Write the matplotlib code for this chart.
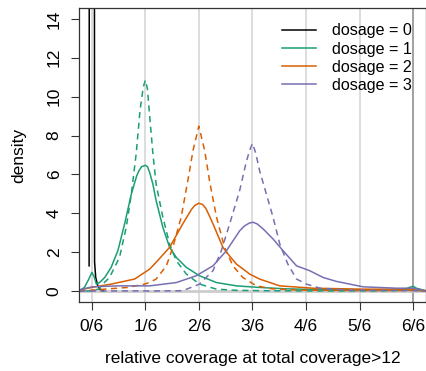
import matplotlib
matplotlib.use('Agg')
import matplotlib.pyplot as plt

plt.rcParams['font.family'] = ['Liberation Sans', 'DejaVu Sans']

# density curves (x = relative coverage, y = density)
d0_x = [-0.0085, -0.008, -0.004, 0.0, 0.004, 0.008, 0.0085, 0.012, 0.018, 0.025, 0.035]
d0_y = [1.3, 18, 60, 80, 60, 18, 1.5, 0.7, 0.3, 0.1, 0.02]

d1_x = [-0.04, -0.023, -0.01, 0.0, 0.007, 0.014, 0.024, 0.04, 0.06, 0.081, 0.102,
        0.123, 0.14, 0.147, 0.155, 0.1667, 0.173, 0.18, 0.19, 0.2, 0.221, 0.242,
        0.263, 0.294, 0.335, 0.388, 0.45, 0.52, 0.6, 0.7, 0.8, 0.9, 0.97, 0.99,
        1.0, 1.01, 1.04]
d1_y = [0.02, 0.19, 0.6, 0.96, 0.75, 0.36, 0.44, 0.7, 1.22, 2.08, 3.46,
        5.0, 5.95, 6.2, 6.4, 6.47, 6.4, 6.1, 5.5, 4.66, 3.28, 2.25,
        1.73, 1.22, 0.79, 0.44, 0.27, 0.19, 0.12, 0.08, 0.06, 0.05, 0.06, 0.2,
        0.25, 0.15, 0.02]
d1e_x = [-0.02, 0.0, 0.02, 0.034, 0.055, 0.07, 0.086, 0.107, 0.123, 0.138, 0.15,
         0.16, 0.1667, 0.173, 0.18, 0.19, 0.2, 0.221, 0.242, 0.263, 0.294, 0.335,
         0.388, 0.45, 0.55, 0.7, 0.9, 1.0, 1.03]
d1e_y = [0.0, 0.02, 0.1, 0.36, 0.7, 1.2, 1.73, 3.28, 5.0, 7.07, 9.3,
         10.5, 10.85, 10.4, 9.0, 7.07, 5.5, 3.8, 2.42, 1.56, 0.88, 0.36,
         0.1, 0.04, 0.02, 0.01, 0.01, 0.05, 0.0]

d2_x = [-0.04, 0.0, 0.06, 0.133, 0.18, 0.2, 0.242, 0.283, 0.31, 0.32, 0.333, 0.345,
        0.355, 0.365, 0.377, 0.408, 0.429, 0.45, 0.491, 0.522, 0.585, 0.688, 0.844,
        1.0, 1.04]
d2_y = [0.05, 0.19, 0.36, 0.62, 1.13, 1.48, 2.25, 3.46, 4.2, 4.4, 4.52, 4.45,
        4.25, 3.9, 3.46, 2.25, 1.8, 1.39, 0.88, 0.62, 0.27, 0.15, 0.1,
        0.1, 0.02]
d2e_x = [-0.04, 0.04, 0.112, 0.164, 0.18, 0.2, 0.232, 0.252, 0.278, 0.3, 0.315, 0.333,
         0.351, 0.367, 0.388, 0.413, 0.439, 0.47, 0.512, 0.56, 0.65, 0.8, 1.0, 1.04]
d2e_y = [0.0, 0.1, 0.19, 0.36, 0.45, 0.62, 1.3, 2.25, 3.8, 5.8, 7.24, 8.48,
         7.24, 5.6, 3.8, 2.25, 1.3, 0.7, 0.27, 0.12, 0.05, 0.03, 0.03, 0.0]

d3_x = [-0.04, 0.0, 0.081, 0.18, 0.263, 0.325, 0.377, 0.419, 0.46, 0.475, 0.49,
        0.502, 0.515, 0.533, 0.564, 0.595, 0.637, 0.678, 0.72, 0.761, 0.844, 0.948,
        1.0, 1.03]
d3_y = [0.05, 0.22, 0.27, 0.27, 0.44, 0.79, 1.3, 2.08, 3.1, 3.35, 3.5,
        3.54, 3.45, 3.2, 2.68, 2.08, 1.3, 1.05, 0.7, 0.5, 0.22, 0.15,
        0.15, 0.05]
d3e_x = [-0.04, 0.1, 0.2, 0.283, 0.335, 0.377, 0.403, 0.429, 0.46, 0.48, 0.491, 0.5,
         0.51, 0.522, 0.543, 0.564, 0.585, 0.61, 0.637, 0.668, 0.71, 0.8, 1.0, 1.04]
d3e_y = [0.0, 0.01, 0.01, 0.02, 0.36, 1.05, 2.08, 3.46, 5.17, 6.6, 7.24, 7.6,
         7.1, 6.2, 5.0, 3.8, 2.42, 1.39, 0.62, 0.36, 0.15, 0.05, 0.02, 0.0]

xticks = [0, 1/6, 2/6, 3/6, 4/6, 5/6, 1]
xlabels = ['0/6', '1/6', '2/6', '3/6', '4/6', '5/6', '6/6']
yticks = [0, 2, 4, 6, 8, 10, 12, 14]
labels = ['dosage = 0', 'dosage = 1', 'dosage = 2', 'dosage = 3']
colors = ['black', '#1B9E77', '#D95F02', '#7570B3']

fig = plt.figure(figsize=(4.26, 3.71), dpi=100)
ax = fig.add_axes([79/426, 69/371, 347/426, 294/371])

for i, xv in enumerate(xticks):
    ax.axvline(xv, color='#888888' if i == 6 else '#D3D3D3', lw=1.1, zorder=0)
ax.axhline(0, color='#CCCCCC', lw=2, zorder=0)

lw = 1.1
dash = (0, (4, 3))
ax.plot(d0_x, d0_y, color=colors[0], lw=lw, label=labels[0])
ax.plot(d1_x, d1_y, color=colors[1], lw=lw, label=labels[1])
ax.plot(d1e_x, d1e_y, color=colors[1], lw=lw, ls=dash)
ax.plot(d2_x, d2_y, color=colors[2], lw=lw, label=labels[2])
ax.plot(d2e_x, d2e_y, color=colors[2], lw=lw, ls=dash)
ax.plot(d3_x, d3_y, color=colors[3], lw=lw, label=labels[3])
ax.plot(d3e_x, d3e_y, color=colors[3], lw=lw, ls=dash)

ax.set_xlim(-0.04, 1.04)
ax.set_ylim(-0.56, 14.56)
ax.set_xticks(xticks)
ax.set_xticklabels(xlabels)
ax.set_yticks(yticks)
ax.tick_params(axis='both', labelsize=12.5, length=5.5, width=0.8, color='#333333')
ax.tick_params(axis='x', pad=7)
ax.tick_params(axis='y', pad=7)
for t in ax.get_yticklabels():
    t.set_rotation(90)
    t.set_va('center')
for s in ax.spines.values():
    s.set_color('#333333')
    s.set_linewidth(0.9)

ax.set_xlabel('relative coverage at total coverage>12', fontsize=12.5, labelpad=12)
ax.set_ylabel('density', fontsize=12.5, labelpad=15)

ax.legend(loc='upper left', bbox_to_anchor=(0.585, 0.948), frameon=False,
          fontsize=11.6, handlelength=2.1, handletextpad=1.0, labelspacing=0.2,
          borderpad=0, borderaxespad=0)

plt.savefig('out.png', dpi=100)
plt.close()
